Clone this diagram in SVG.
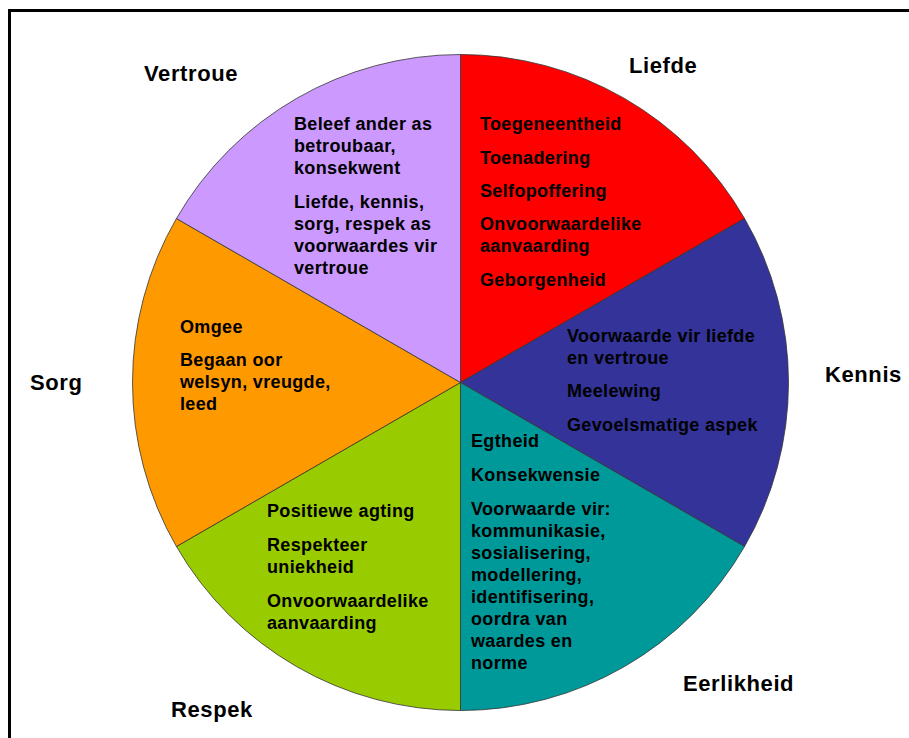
<svg xmlns="http://www.w3.org/2000/svg" width="909" height="738" viewBox="0 0 909 738">
<style>
.slice{stroke:#333;stroke-width:0.8}
.t{font-family:"Liberation Sans",Arial,sans-serif;font-weight:bold;font-size:18px;letter-spacing:0.35px;fill:#000}
.h{font-family:"Liberation Sans",Arial,sans-serif;font-weight:bold;font-size:22px;letter-spacing:0.6px;fill:#000}
</style>
<rect x="0" y="0" width="909" height="738" fill="#fff"/>
<rect x="9.5" y="10.5" width="1000" height="1000" fill="none" stroke="#000" stroke-width="3"/>
<g id="liefde">
<path class="slice" fill="#FF0000" d="M460.5,382.5 L460.5,54.5 A328,328 0 0 1 744.56,218.5 Z"/>
<text class="h" x="629" y="73">Liefde</text>
<text class="t" x="480" y="130">Toegeneentheid</text>
<text class="t" x="480" y="164">Toenadering</text>
<text class="t" x="480" y="197">Selfopoffering</text>
<text class="t" x="480" y="230">Onvoorwaardelike</text>
<text class="t" x="480" y="252">aanvaarding</text>
<text class="t" x="480" y="286">Geborgenheid</text>
</g>
<g id="kennis">
<path class="slice" fill="#333399" d="M460.5,382.5 L744.56,218.5 A328,328 0 0 1 744.56,546.5 Z"/>
<text class="h" x="825" y="382">Kennis</text>
<text class="t" x="567" y="342">Voorwaarde vir liefde</text>
<text class="t" x="567" y="364">en vertroue</text>
<text class="t" x="567" y="397">Meelewing</text>
<text class="t" x="567" y="431">Gevoelsmatige aspek</text>
</g>
<g id="eerlikheid">
<path class="slice" fill="#009999" d="M460.5,382.5 L744.56,546.5 A328,328 0 0 1 460.5,710.5 Z"/>
<text class="h" x="683" y="691">Eerlikheid</text>
<text class="t" x="471" y="447">Egtheid</text>
<text class="t" x="471" y="481">Konsekwensie</text>
<text class="t" x="471" y="515">Voorwaarde vir:</text>
<text class="t" x="471" y="537">kommunikasie,</text>
<text class="t" x="471" y="559">sosialisering,</text>
<text class="t" x="471" y="581">modellering,</text>
<text class="t" x="471" y="603">identifisering,</text>
<text class="t" x="471" y="625">oordra van</text>
<text class="t" x="471" y="647">waardes en</text>
<text class="t" x="471" y="669">norme</text>
</g>
<g id="respek">
<path class="slice" fill="#99CC00" d="M460.5,382.5 L460.5,710.5 A328,328 0 0 1 176.44,546.5 Z"/>
<text class="h" x="171" y="717">Respek</text>
<text class="t" x="267" y="517">Positiewe agting</text>
<text class="t" x="267" y="551">Respekteer</text>
<text class="t" x="267" y="573">uniekheid</text>
<text class="t" x="267" y="607">Onvoorwaardelike</text>
<text class="t" x="267" y="629">aanvaarding</text>
</g>
<g id="sorg">
<path class="slice" fill="#FF9900" d="M460.5,382.5 L176.44,546.5 A328,328 0 0 1 176.44,218.5 Z"/>
<text class="h" x="30" y="390">Sorg</text>
<text class="t" x="180" y="333">Omgee</text>
<text class="t" x="180" y="366">Begaan oor</text>
<text class="t" x="180" y="388">welsyn, vreugde,</text>
<text class="t" x="180" y="410">leed</text>
</g>
<g id="vertroue">
<path class="slice" fill="#CC99FF" d="M460.5,382.5 L176.44,218.5 A328,328 0 0 1 460.5,54.5 Z"/>
<text class="h" x="144" y="81">Vertroue</text>
<text class="t" x="294" y="130">Beleef ander as</text>
<text class="t" x="294" y="152">betroubaar,</text>
<text class="t" x="294" y="174">konsekwent</text>
<text class="t" x="294" y="208">Liefde, kennis,</text>
<text class="t" x="294" y="230">sorg, respek as</text>
<text class="t" x="294" y="252">voorwaardes vir</text>
<text class="t" x="294" y="274">vertroue</text>
</g>
<g id="connectors"/>
</svg>
